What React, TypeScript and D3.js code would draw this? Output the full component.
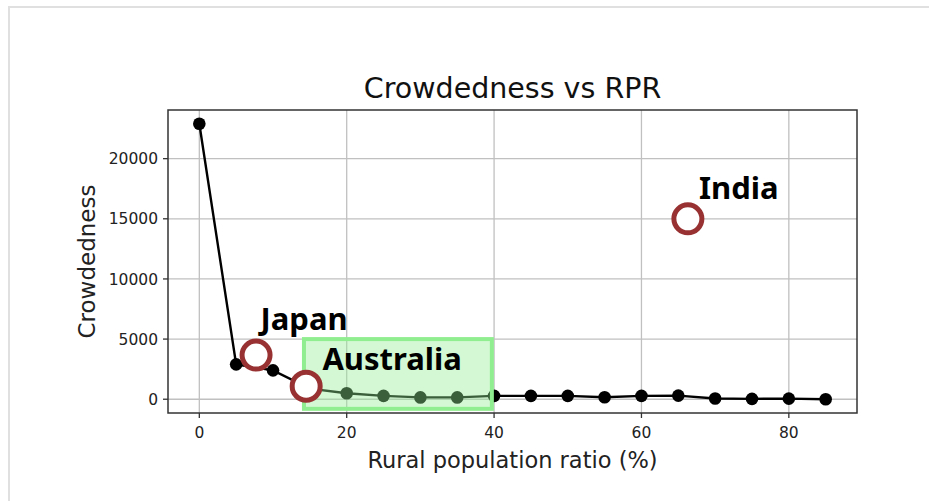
import React from "react";
import * as d3 from "d3";

const rprValues = [0, 5, 10, 15, 20, 25, 30, 35, 40, 45, 50, 55, 60, 65, 70, 75, 80, 85];
const crowdValues = [22900, 2900, 2400, 880, 500, 280, 150, 150, 280, 280, 280, 170, 280, 300, 60, 30, 50, 0];
const xTickValues = [0, 20, 40, 60, 80];
const yTickValues = [0, 5000, 10000, 15000, 20000];

const countryNames = ["Japan", "Australia", "India"];
const countryCircleX = [7.7, 14.5, 66.3];
const countryCircleY = [3670, 1080, 15000];
const countryLabelX = [8.3, 16.7, 67.8];
const countryLabelY = [5750, 2420, 16650];

const highlightX = [14.2, 39.7];
const highlightY = [-800, 5000];

const W = 929;
const H = 501;
const plot = { left: 168, right: 857, top: 110, bottom: 413 };

export default function App() {
  const xMin = d3.min(rprValues)!;
  const xMax = d3.max(rprValues)!;
  const yMin = d3.min(crowdValues)!;
  const yMax = d3.max(crowdValues)!;
  const xPad = (xMax - xMin) * 0.05;
  const yPad = (yMax - yMin) * 0.05;

  const x = d3.scaleLinear().domain([xMin - xPad, xMax + xPad]).range([plot.left, plot.right]);
  const y = d3.scaleLinear().domain([yMin - yPad, yMax + yPad]).range([plot.bottom, plot.top]);

  const pts = rprValues.map((v, i) => [v, crowdValues[i]] as [number, number]);
  const line = d3.line<[number, number]>().x((d) => x(d[0])).y((d) => y(d[1]));

  const axisFont = "'DejaVu Sans', sans-serif";
  const annFont = "'Noto Sans', 'Open Sans', sans-serif";
  const red = "#983232";

  return (
    <svg width={W} height={H} style={{ position: "absolute", left: 0, top: 0, background: "#fff" }}>
      <rect x={9} y={7} width={W + 10} height={H + 10} fill="#fff" stroke="#e0e0e0" strokeWidth={2} />

      {/* grid */}
      {xTickValues.map((t) => (
        <line key={"gx" + t} x1={x(t)} x2={x(t)} y1={plot.top} y2={plot.bottom} stroke="#c0c0c0" strokeWidth={1.3} />
      ))}
      {yTickValues.map((t) => (
        <line key={"gy" + t} x1={plot.left} x2={plot.right} y1={y(t)} y2={y(t)} stroke="#c0c0c0" strokeWidth={1.3} />
      ))}

      {/* series */}
      <path d={line(pts) || ""} fill="none" stroke="#000" strokeWidth={2.4} />
      {pts.map((p, i) => (
        <circle key={"p" + i} cx={x(p[0])} cy={y(p[1])} r={6.3} fill="#000" />
      ))}

      {/* highlight */}
      <rect
        x={x(highlightX[0])}
        y={y(highlightY[1])}
        width={x(highlightX[1]) - x(highlightX[0])}
        height={y(highlightY[0]) - y(highlightY[1])}
        fill="#90ee90"
        fillOpacity={0.4}
        stroke="#90ee90"
        strokeWidth={4}
      />

      {/* country circles */}
      {countryNames.map((n, i) => (
        <circle key={"c" + n} cx={x(countryCircleX[i])} cy={y(countryCircleY[i])} r={14} fill="#fff" stroke={red} strokeWidth={5} />
      ))}
      {countryNames.map((n, i) => (
        <text key={"t" + n} x={x(countryLabelX[i])} y={y(countryLabelY[i])} fontFamily={annFont} fontWeight={700} fontSize={31} fill="#000">
          {n}
        </text>
      ))}

      {/* frame */}
      <rect x={plot.left} y={plot.top} width={plot.right - plot.left} height={plot.bottom - plot.top} fill="none" stroke="#333" strokeWidth={1.5} />

      {/* ticks */}
      {xTickValues.map((t) => (
        <g key={"tx" + t}>
          <line x1={x(t)} x2={x(t)} y1={plot.bottom} y2={plot.bottom + 5} stroke="#333" strokeWidth={1.3} />
          <text x={x(t)} y={438} textAnchor="middle" fontFamily={axisFont} fontSize={15.5} fill="#222">
            {t}
          </text>
        </g>
      ))}
      {yTickValues.map((t) => (
        <g key={"ty" + t}>
          <line x1={plot.left - 5} x2={plot.left} y1={y(t)} y2={y(t)} stroke="#333" strokeWidth={1.3} />
          <text x={plot.left - 10} y={y(t)} dy="0.36em" textAnchor="end" fontFamily={axisFont} fontSize={15.5} fill="#222">
            {t}
          </text>
        </g>
      ))}

      {/* labels */}
      <text x={(plot.left + plot.right) / 2} y={98} textAnchor="middle" fontFamily={axisFont} fontSize={28.5} fill="#111">
        Crowdedness vs RPR
      </text>
      <text x={(plot.left + plot.right) / 2} y={467.5} textAnchor="middle" fontFamily={axisFont} fontSize={22.5} fill="#222">
        Rural population ratio (%)
      </text>
      <text
        transform={`translate(95, ${(plot.top + plot.bottom) / 2}) rotate(-90)`}
        textAnchor="middle"
        fontFamily={axisFont}
        fontSize={23}
        fill="#222"
      >
        Crowdedness
      </text>
    </svg>
  );
}
